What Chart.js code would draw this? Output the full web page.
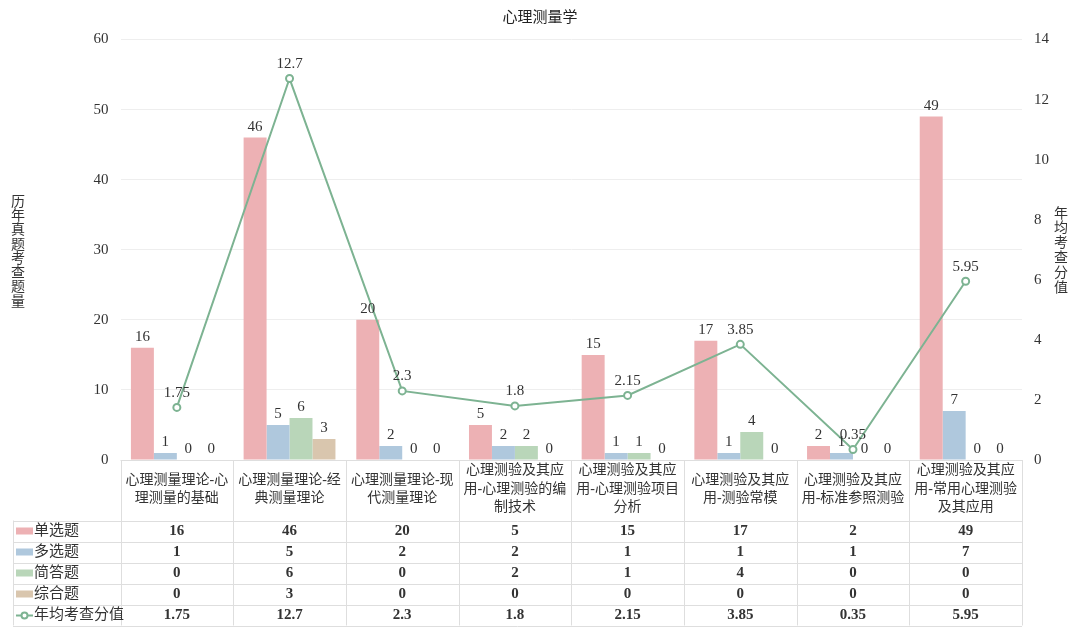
<!DOCTYPE html>
<html>
<head>
<meta charset="utf-8">
<script src="https://cdn.jsdelivr.net/npm/chart.js@4.4.1/dist/chart.umd.min.js"></script>
<style>
  html, body { margin: 0; padding: 0; background: #fff; }
  #wrap { width: 1080px; height: 631px; }
</style>
</head>
<body>
<div id="wrap"><canvas id="mainChart"></canvas></div>
<script>
// data
const categories = [
  "心理测量理论-心理测量的基础",
  "心理测量理论-经典测量理论",
  "心理测量理论-现代测量理论",
  "心理测验及其应用-心理测验的编制技术",
  "心理测验及其应用-心理测验项目分析",
  "心理测验及其应用-测验常模",
  "心理测验及其应用-标准参照测验",
  "心理测验及其应用-常用心理测验及其应用"
];
const singleChoice = [16, 46, 20, 5, 15, 17, 2, 49];
const multiChoice = [1, 5, 2, 2, 1, 1, 1, 7];
const shortAnswer = [0, 6, 0, 2, 1, 4, 0, 0];
const essay = [0, 3, 0, 0, 0, 0, 0, 0];
const avgScore = [1.75, 12.7, 2.3, 1.8, 2.15, 3.85, 0.35, 5.95];
const seriesNames = ["单选题", "多选题", "简答题", "综合题", "年均考查分值"];
const leftTicks = [0, 10, 20, 30, 40, 50, 60];
const rightTicks = [0, 2, 4, 6, 8, 10, 12, 14];

const colors = ["#EDB1B4", "#AFC8DD", "#B9D6B9", "#D9C6AE"];
const lineColor = "#7DB392";
const serif = '"Liberation Serif", "Noto Sans CJK SC", serif';
const textColor = "#333333";

// table + labels + axis titles drawn on the canvas
const tablePlugin = {
  id: "tablePlugin",
  afterDatasetsDraw(chart) {
    const ctx = chart.ctx;
    // value labels
    ctx.save();
    ctx.fillStyle = textColor;
    ctx.font = "15px " + serif;
    ctx.textAlign = "center";
    ctx.textBaseline = "bottom";
    chart.data.datasets.forEach((ds, di) => {
      const meta = chart.getDatasetMeta(di);
      meta.data.forEach((el, i) => {
        const v = ds.data[i];
        const off = ds.type === "line" ? 7 : 3;
        ctx.fillText(String(v), el.x, el.y - off);
      });
    });
    ctx.restore();
  },
  afterDraw(chart) {
    const ctx = chart.ctx;
    const area = chart.chartArea;
    const n = categories.length;
    const colW = (area.right - area.left) / n;
    const top = area.bottom;
    const headH = 60.5;
    const rowH = 21;
    const legendLeft = 13;
    const rowsTop = top + headH;
    const bottom = rowsTop + rowH * 5;

    ctx.save();
    ctx.strokeStyle = "#DEDEDE";
    ctx.lineWidth = 1;
    ctx.beginPath();
    // verticals
    for (let i = 0; i <= n; i++) {
      const xx = Math.round(area.left + i * colW) + 0.5;
      ctx.moveTo(xx, top);
      ctx.lineTo(xx, bottom);
    }
    ctx.moveTo(legendLeft + 0.5, rowsTop);
    ctx.lineTo(legendLeft + 0.5, bottom);
    // horizontals
    ctx.moveTo(area.left, top + 0.5);
    ctx.lineTo(area.right, top + 0.5);
    for (let r = 0; r <= 5; r++) {
      const yy = Math.round(rowsTop + r * rowH) + 0.5;
      ctx.moveTo(legendLeft, yy);
      ctx.lineTo(area.right, yy);
    }
    ctx.stroke();

    // category headers, wrapped by character
    ctx.fillStyle = textColor;
    ctx.font = "14px " + serif;
    ctx.textAlign = "center";
    ctx.textBaseline = "middle";
    categories.forEach((label, i) => {
      const lines = [];
      let cur = "";
      for (const ch of label) {
        if (ctx.measureText(cur + ch).width > colW - 5 && cur) {
          lines.push(cur);
          cur = ch;
        } else {
          cur += ch;
        }
      }
      if (cur) lines.push(cur);
      const lh = 18.5;
      const cx = area.left + (i + 0.5) * colW;
      const cy = top + headH / 2 - 1;
      lines.forEach((ln, k) => {
        ctx.fillText(ln, cx, cy + (k - (lines.length - 1) / 2) * lh);
      });
    });

    // rows
    const rows = [singleChoice, multiChoice, shortAnswer, essay, avgScore];
    rows.forEach((vals, r) => {
      const cy = rowsTop + r * rowH + rowH / 2 + 0.5;
      // legend key
      if (r < 4) {
        ctx.fillStyle = colors[r];
        ctx.fillRect(16, cy - 4, 17, 7);
      } else {
        ctx.strokeStyle = lineColor;
        ctx.lineWidth = 2;
        ctx.beginPath();
        ctx.moveTo(16, cy);
        ctx.lineTo(33, cy);
        ctx.stroke();
        ctx.beginPath();
        ctx.arc(24.5, cy, 3, 0, Math.PI * 2);
        ctx.fillStyle = "#fff";
        ctx.fill();
        ctx.stroke();
      }
      ctx.fillStyle = textColor;
      ctx.font = "15px " + serif;
      ctx.textAlign = "left";
      ctx.fillText(seriesNames[r], 34, cy);
      ctx.font = "bold 15px " + serif;
      ctx.textAlign = "center";
      vals.forEach((v, i) => {
        ctx.fillText(String(v), area.left + (i + 0.5) * colW, cy);
      });
    });

    // title
    ctx.font = "15px \"Noto Sans CJK SC\", sans-serif";
    ctx.fillStyle = "#222";
    ctx.textAlign = "center";
    ctx.fillText("心理测量学", 540, 16);

    // vertical axis titles, stacked characters
    ctx.font = "14px " + serif;
    ctx.fillStyle = textColor;
    const leftTitle = "历年真题考查题量";
    leftTitle.split("").forEach((ch, k) => {
      ctx.fillText(ch, 18, 202 + k * 14.3);
    });
    const rightTitle = "年均考查分值";
    rightTitle.split("").forEach((ch, k) => {
      ctx.fillText(ch, 1061, 214 + k * 14.8);
    });
    ctx.restore();
  }
};

const barSets = [singleChoice, multiChoice, shortAnswer, essay].map((d, i) => ({
  type: "bar",
  label: seriesNames[i],
  data: d,
  backgroundColor: colors[i],
  yAxisID: "y",
  categoryPercentage: 0.815,
  barPercentage: 1,
  order: 2
}));

new Chart(document.getElementById("mainChart"), {
  data: {
    labels: categories,
    datasets: [
      ...barSets,
      {
        type: "line",
        label: seriesNames[4],
        data: avgScore,
        yAxisID: "y1",
        borderColor: lineColor,
        borderWidth: 2,
        pointRadius: 3.5,
        pointBorderWidth: 2,
        pointBackgroundColor: "#fff",
        pointBorderColor: lineColor,
        tension: 0,
        fill: false,
        order: 1
      }
    ]
  },
  options: {
    responsive: true,
    maintainAspectRatio: false,
    animation: false,
    layout: { padding: { top: 39.5, bottom: 171, left: 0, right: 0 } },
    plugins: {
      legend: { display: false },
      title: { display: false },
      tooltip: { enabled: false }
    },
    scales: {
      x: {
        display: false,
        offset: true
      },
      y: {
        position: "left",
        min: 0,
        max: 60,
        afterBuildTicks: (s) => { s.ticks = leftTicks.map(v => ({ value: v })); },
        afterFit: (s) => { s.width = 120.5; },
        grid: { color: "#EEEEEE", drawTicks: false },
        border: { display: false },
        ticks: { padding: 12, color: textColor, font: { family: serif, size: 15 } }
      },
      y1: {
        position: "right",
        min: 0,
        max: 14,
        afterBuildTicks: (s) => { s.ticks = rightTicks.map(v => ({ value: v })); },
        afterFit: (s) => { s.width = 58; },
        grid: { display: false, drawTicks: false },
        border: { display: false },
        ticks: { padding: 12, color: textColor, font: { family: serif, size: 15 } }
      }
    }
  },
  plugins: [tablePlugin]
});
</script>
</body>
</html>
